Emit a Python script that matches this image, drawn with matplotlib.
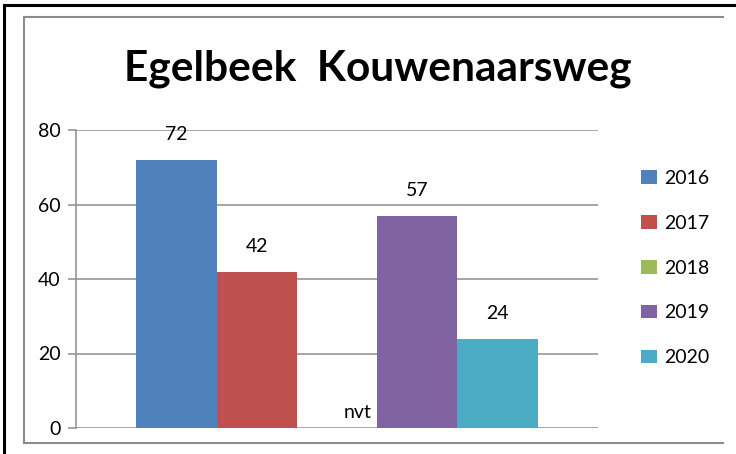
import matplotlib.pyplot as plt
from matplotlib.lines import Line2D

# chart values
years = ['2016', '2017', '2018', '2019', '2020']
values = [72, 42, 0, 57, 24]
labels = ['72', '42', 'nvt', '57', '24']
colors = ['#4F81BD', '#C0504D', '#9BBB59', '#8064A2', '#4BACC6']
y_ticks = [0, 20, 40, 60, 80]

plt.rcParams['font.family'] = ['Lato', 'DejaVu Sans']

W, H = 736, 454
fig = plt.figure(figsize=(W / 100, H / 100), dpi=100)

# axes placed in pixel coords of the reference
x0, x1 = 76, 598
y0, y1 = 428, 130
ax = fig.add_axes([x0 / W, 1 - y0 / H, (x1 - x0) / W, (y0 - y1) / H])

xs = [1.25 + i for i in range(len(values))]
bars = ax.bar(xs, values, width=1.0, color=colors, label=years, zorder=3)

# data labels (2018 has no measurement -> "nvt")
for xi, v, lab in zip(xs, values, labels):
    if lab == 'nvt':
        ax.annotate(lab, (xi, v), xytext=(15, 11), textcoords='offset points',
                    ha='center', va='center', fontsize=14)
    else:
        ax.annotate(lab, (xi, v), xytext=(0, 18), textcoords='offset points',
                    ha='center', va='center', fontsize=14)

ax.set_xlim(0, 6.5)
ax.set_ylim(0, 80)
ax.set_yticks(y_ticks)
ax.set_xticks([])
ax.yaxis.grid(True, color='#969696', linewidth=1.2, zorder=0)
ax.tick_params(axis='y', length=6, width=1.2, color='#969696', labelsize=14, pad=5)
for s in ['top', 'right', 'bottom']:
    ax.spines[s].set_visible(False)
ax.spines['left'].set_color('#969696')
ax.spines['left'].set_linewidth(1.2)

# title
fig.text(378 / W, 1 - 69 / H, 'Egelbeek  Kouwenaarsweg', ha='center', va='center',
         fontsize=30.5, fontweight='bold')

# legend on the right
fig.legend(handles=bars, labels=years, loc='center left',
           bbox_to_anchor=(641 / W, 1 - 268 / H), frameon=False, fontsize=14,
           handlelength=0.8, handleheight=0.7, handletextpad=0.4,
           labelspacing=1.43, borderpad=0, borderaxespad=0)

# chart frames: outer black, inner gray
fig.add_artist(Line2D([4 / W, 1], [1 - 5 / H, 1 - 5 / H], color='black', linewidth=2.2))
fig.add_artist(Line2D([4 / W, 4 / W], [0, 1 - 5 / H], color='black', linewidth=2.2))
fig.add_artist(Line2D([24 / W, 723 / W], [1 - 17 / H, 1 - 17 / H], color='#8c8c8c', linewidth=1.5))
fig.add_artist(Line2D([24 / W, 723 / W], [1 - 443 / H, 1 - 443 / H], color='#8c8c8c', linewidth=1.5))
fig.add_artist(Line2D([24 / W, 24 / W], [1 - 17 / H, 1 - 443 / H], color='#8c8c8c', linewidth=1.5))

fig.savefig('out.png', dpi=100)
